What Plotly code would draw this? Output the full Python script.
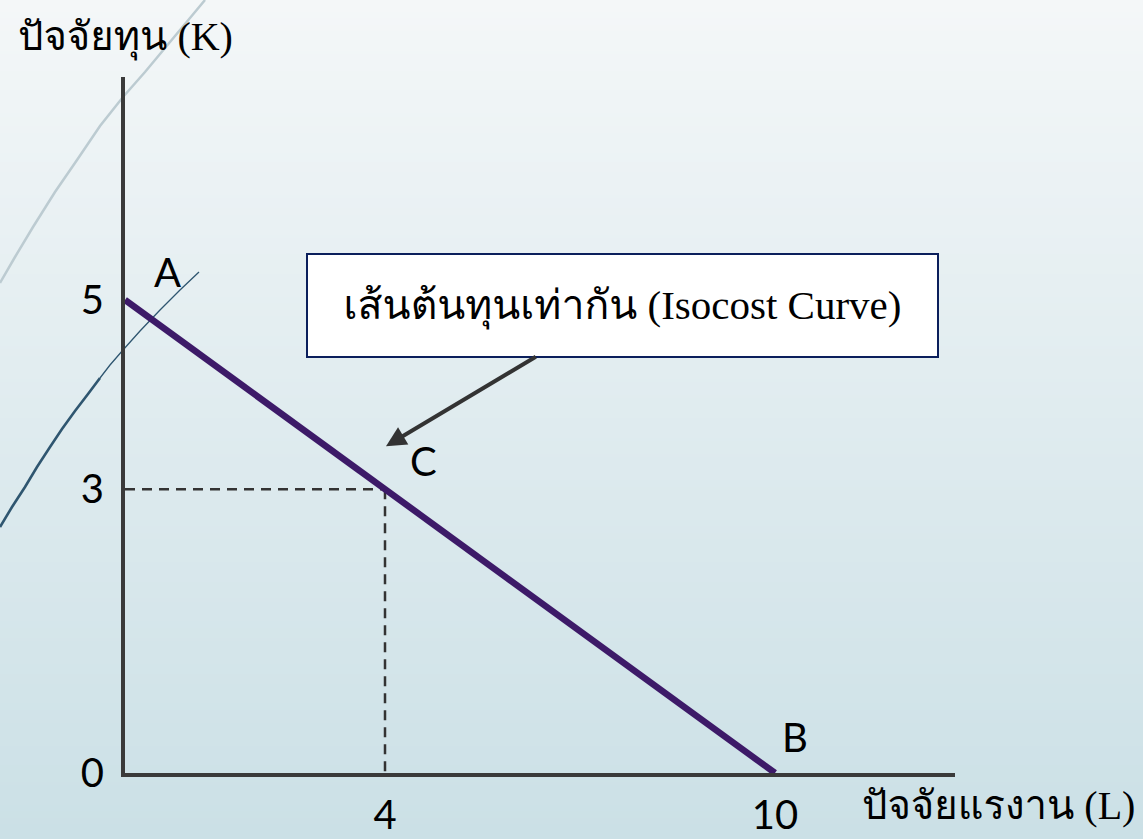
import base64, struct, zlib
import plotly.graph_objects as go

# ---- data ----
labour = [0, 10]            # L
capital = [5, 0]            # K
point_c = (4, 3)
x_ticks = [4, 10]
y_ticks = [0, 3, 5]
x_title = "ปัจจัยแรงาน (L)"
y_title = "ปัจจัยทุน (K)"
box_text = "เส้นต้นทุนเท่ากัน (Isocost Curve)"

# decorative theme curves (pixel positions on the slide)
deco_light_x = [205, 185, 165, 145, 123, 100, 77, 55, 33, 15, 0]
deco_light_y = [0, 24, 48, 72, 97, 126, 160, 192, 227, 257, 283]
deco_dark_top_x = [199, 180, 160, 140, 123, 110, 100]
deco_dark_top_y = [272, 290, 310, 331, 350, 365, 378]
deco_dark_low_x = [100, 88, 75, 62, 50, 37, 25, 12, 0]
deco_dark_low_y = [378, 394, 411, 429, 447, 467, 487, 507, 527]

W, H = 1143, 839
L, R, T, B = 125, 1143 - 955, 77, H - 773
pw, ph = W - L - R, H - T - B

def px2paper(xs, ys):
    return [(x - L) / pw for x in xs], [(H - B - y) / ph for y in ys]

def gradient_png(c0, c1, n=256):
    rows = b""
    for i in range(n):
        t = i / (n - 1)
        c = bytes(int(round(c0[k] + (c1[k] - c0[k]) * t)) for k in range(3))
        rows += b"\x00" + c
    def chunk(tag, data):
        return struct.pack(">I", len(data)) + tag + data + struct.pack(">I", zlib.crc32(tag + data) & 0xffffffff)
    png = b"\x89PNG\r\n\x1a\n" + chunk(b"IHDR", struct.pack(">IIBBBBB", 1, n, 8, 2, 0, 0, 0)) \
        + chunk(b"IDAT", zlib.compress(rows)) + chunk(b"IEND", b"")
    return "data:image/png;base64," + base64.b64encode(png).decode()

thai_serif = "Liberation Serif, Tlwg Typo, Norasi, Loma, Garuda, Noto Serif Thai, Noto Sans Thai, serif"
sans = "Lato, Open Sans, sans-serif"

fig = go.Figure()

fig.add_trace(go.Scatter(x=[0, point_c[0]], y=[point_c[1], point_c[1]], mode="lines",
                         line=dict(color="#333333", width=2.5, dash="10px,7px"), hoverinfo="skip"))
fig.add_trace(go.Scatter(x=[point_c[0], point_c[0]], y=[point_c[1], 0], mode="lines",
                         line=dict(color="#333333", width=2.5, dash="10px,7px"), hoverinfo="skip"))
fig.add_trace(go.Scatter(x=labour, y=capital, mode="lines",
                         line=dict(color="#3d1a68", width=6.5), hoverinfo="skip"))

xr = [0, pw / 65.0]
yr = [0, ph / 94.6]

fig.update_layout(
    width=W, height=H, showlegend=False,
    margin=dict(l=L, r=R, t=T, b=B, autoexpand=False),
    paper_bgcolor="#e3edf0", plot_bgcolor="rgba(0,0,0,0)",
    xaxis=dict(range=xr, showgrid=False, zeroline=False, showline=True, linecolor="#3a3a3a",
               linewidth=4, tickvals=x_ticks, ticks="", ticklabelstandoff=4, automargin=False,
               tickfont=dict(family=sans, size=40, color="black")),
    yaxis=dict(range=yr, showgrid=False, zeroline=False, showline=True, linecolor="#3a3a3a",
               linewidth=4, tickvals=y_ticks, ticks="", ticklabelstandoff=9, automargin=False,
               tickfont=dict(family=sans, size=40, color="black")),
    images=[dict(source=gradient_png((244, 247, 248), (203, 224, 230)), xref="paper", yref="paper",
                 x=-L / pw, y=(H - B) / ph, sizex=W / pw, sizey=H / ph, sizing="stretch",
                 xanchor="left", yanchor="top", layer="below")],
)

for xs, ys, col, w in [(deco_light_x, deco_light_y, "#bccbd1", 2.5),
                       (deco_dark_top_x, deco_dark_top_y, "#2f5670", 1.3),
                       (deco_dark_low_x, deco_dark_low_y, "#2f5670", 2.6)]:
    px, py = px2paper(xs, ys)
    path = "M " + " L ".join(f"{a},{b}" for a, b in zip(px, py))
    fig.add_shape(type="path", path=path, xref="paper", yref="paper",
                  line=dict(color=col, width=w), layer="below")

# axis titles
fig.add_annotation(text=y_title, xref="paper", yref="paper", x=(125 - L) / pw, y=(H - B - 38) / ph,
                   xanchor="center", yanchor="middle",
                   showarrow=False, font=dict(family=thai_serif, size=40, color="black"))
fig.add_annotation(text=x_title, xref="paper", yref="paper", x=(998 - L) / pw, y=(H - B - 805) / ph,
                   xanchor="center", yanchor="middle",
                   showarrow=False, font=dict(family=thai_serif, size=40, color="black"))

# point labels
for name, (px_, py_), dx, dy in [("A", (labour[0], capital[0]), 42, 28),
                                  ("B", (labour[1], capital[1]), 20, 36),
                                  ("C", point_c, 38, 28)]:
    fig.add_annotation(text=name, x=px_, y=py_, xshift=dx, yshift=dy, showarrow=False,
                       font=dict(family=sans, size=40, color="black"))

# callout box with arrow to C
fig.add_annotation(text=box_text, x=point_c[0], y=point_c[1], yshift=43, xshift=1,
                   ax=236, ay=-141, axref="pixel", ayref="pixel",
                   showarrow=True, arrowhead=2, arrowsize=1, arrowwidth=4, arrowcolor="#333333",
                   width=625, height=97, borderpad=2, borderwidth=2, bordercolor="#0b1f5c",
                   bgcolor="white", font=dict(family=thai_serif, size=41, color="black"), align="center")

fig.write_html("out.html", config={"displayModeBar": False},
               post_script="document.body.style.margin='0';document.body.style.overflow='hidden';")
